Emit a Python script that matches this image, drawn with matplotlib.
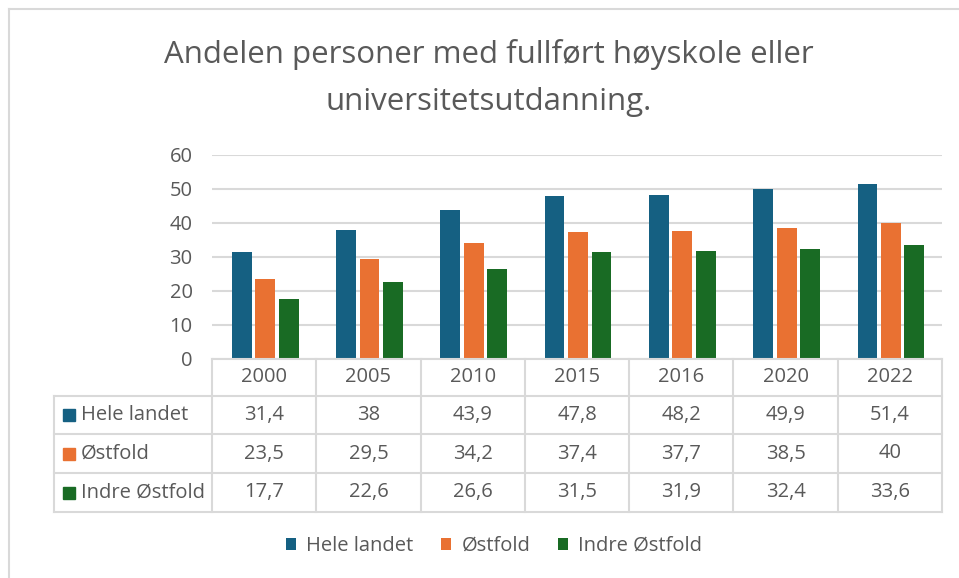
import matplotlib
matplotlib.use("Agg")
import matplotlib.pyplot as plt
from matplotlib.lines import Line2D
from matplotlib.patches import Rectangle
import numpy as np

plt.rcParams['font.family'] = ['Open Sans', 'DejaVu Sans']

years = ["2000", "2005", "2010", "2015", "2016", "2020", "2022"]
series_names = ["Hele landet", "Østfold", "Indre Østfold"]
hele_landet = [31.4, 38, 43.9, 47.8, 48.2, 49.9, 51.4]
ostfold = [23.5, 29.5, 34.2, 37.4, 37.7, 38.5, 40]
indre_ostfold = [17.7, 22.6, 26.6, 31.5, 31.9, 32.4, 33.6]
title = "Andelen personer med fullført høyskole eller\nuniversitetsutdanning."
yticks = [0, 10, 20, 30, 40, 50, 60]

colors = ["#156082", "#E97132", "#196B24"]
grid_c = "#D9D9D9"
text_c = "#595959"
FS = 14.5

W, H = 959, 578
fig = plt.figure(figsize=(W / 100, H / 100), dpi=100)

def fx(px):
    return px / W

def fy(py):
    return 1 - py / H

# plot area in pixels
x0, x1 = 212, 942
ytop, ybot = 155, 359
ax = fig.add_axes([fx(x0), fy(ybot), fx(x1) - fx(x0), fy(ytop) - fy(ybot)])
n = len(years)
x = np.arange(n)
bw = 0.19
off = 0.225
all_series = [hele_landet, ostfold, indre_ostfold]
bars = []
for i, (vals, c, name) in enumerate(zip(all_series, colors, series_names)):
    b = ax.bar(x + (i - 1) * off + 0.01, vals, width=bw, color=c, label=name, zorder=3)
    bars.append(b)
ax.set_xlim(-0.5, n - 0.5)
ax.set_ylim(0, 60)
ax.set_yticks(yticks)
ax.set_yticklabels([str(t) for t in yticks], fontsize=FS, color=text_c)
ax.tick_params(axis='y', length=0, pad=14)
ax.set_xticks([])
ax.yaxis.grid(True, color=grid_c, linewidth=1.5, zorder=0)
for s in ax.spines.values():
    s.set_visible(False)

# title (two lines)
for line, yb in zip(title.split("\n"), [63, 110]):
    fig.text(fx(489), fy(yb), line, ha='center', va='baseline', fontsize=22.5,
             color=text_c)

# table
row_y = [359, 396, 434, 473, 512]
col_x = [x0 + (x1 - x0) * k / n for k in range(n + 1)]
lab_x0 = 54
lw = 1.5

def hline(y, xa, xb):
    fig.add_artist(Line2D([fx(xa), fx(xb)], [fy(y), fy(y)], color=grid_c, lw=lw))

def vline(xp, ya, yb):
    fig.add_artist(Line2D([fx(xp), fx(xp)], [fy(ya), fy(yb)], color=grid_c, lw=lw))

hline(row_y[0], x0, x1)
for y in row_y[1:]:
    hline(y, lab_x0, x1)
for xp in col_x:
    vline(xp, row_y[0], row_y[-1])
vline(lab_x0, row_y[1], row_y[-1])

for k, yr in enumerate(years):
    cx = (col_x[k] + col_x[k + 1]) / 2
    fig.text(fx(cx), fy((row_y[0] + row_y[1]) / 2), yr, ha='center', va='center',
             fontsize=FS, color=text_c)

def fmt(v):
    s = f"{v:g}"
    return s.replace(".", ",")

for r, (vals, c, name) in enumerate(zip(all_series, colors, series_names)):
    cy = (row_y[r + 1] + row_y[r + 2]) / 2
    fig.add_artist(Rectangle((fx(63), fy(cy + 6)), fx(12), fy(cy - 6) - fy(cy + 6),
                             color=c, transform=fig.transFigure))
    fig.text(fx(81), fy(cy), name, ha='left', va='center', fontsize=FS, color=text_c)
    for k, v in enumerate(vals):
        cx = (col_x[k] + col_x[k + 1]) / 2
        fig.text(fx(cx), fy(cy), fmt(v), ha='center', va='center', fontsize=FS,
                 color=text_c)

# legend
leg = fig.legend(handles=bars, labels=series_names, loc='center',
                 bbox_to_anchor=(fx(494), fy(546)), ncol=3, frameon=False,
                 fontsize=FS, handlelength=0.5, handleheight=0.5,
                 handletextpad=0.5, columnspacing=1.4)
for t in leg.get_texts():
    t.set_color(text_c)

# chart border
fig.add_artist(Line2D([fx(9), fx(W)], [fy(9), fy(9)], color=grid_c, lw=1.5))
fig.add_artist(Line2D([fx(9), fx(9)], [fy(9), fy(H)], color=grid_c, lw=1.5))

fig.savefig("out.png", dpi=100)
